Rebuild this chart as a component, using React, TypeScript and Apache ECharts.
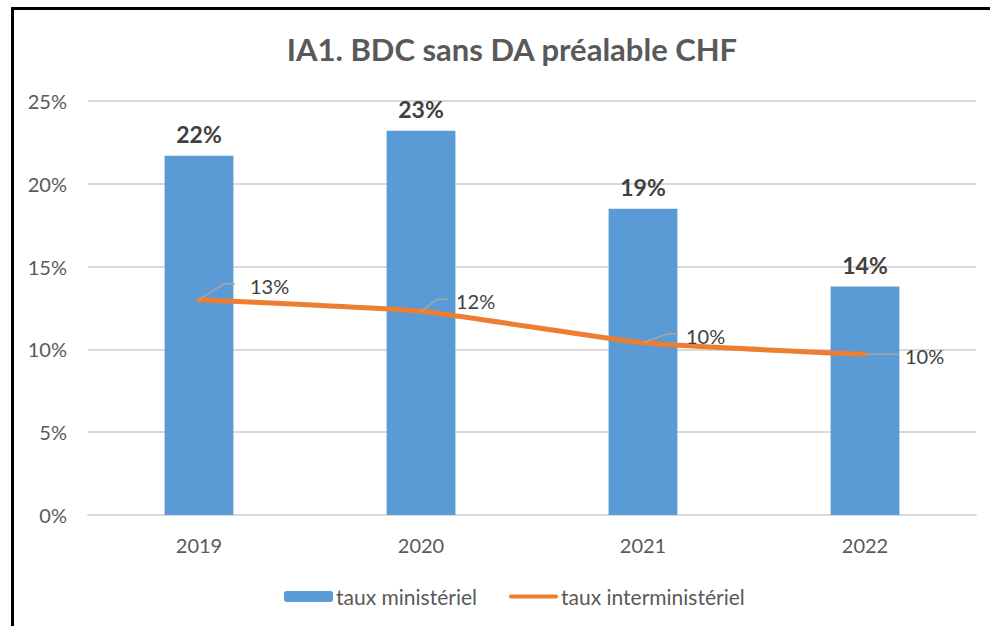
import React, { useEffect, useRef } from "react";
import * as echarts from "echarts";

const categories = ["2019", "2020", "2021", "2022"];
const ministerialValues = [21.7, 23.2, 18.5, 13.8];
const interministerialValues = [13.0, 12.3, 10.4, 9.7];
const yTicks = [0, 5, 10, 15, 20, 25];
const seriesNames = ["taux ministériel", "taux interministériel"];

// label leader-line offsets (style only): [diagX, diagY, horizLen, textDX, textDY]
const leaderOffsets = [
  [25, -16, 11, 51, -14],
  [16, -12, 11, 35, -10],
  [25, -9, 10, 43, -7],
  [0, 0, 33, 40, 2],
];

const FONT = "Lato, 'Open Sans', sans-serif";
const LINE_ICON = "path://M0,0M2,3.5L50,3.5A2,2 0 0 1 50,7.5L2,7.5A2,2 0 0 1 2,3.5ZM52,11";

export default function App() {
  const ref = useRef<HTMLDivElement>(null);
  useEffect(() => {
    if (!ref.current) return;
    const chart = echarts.init(ref.current, null, { renderer: "svg" });
    chart.setOption({
      animation: false,
      backgroundColor: "#ffffff",
      textStyle: { fontFamily: FONT },
      title: {
        text: "IA1. BDC sans DA préalable CHF",
        left: 507,
        textAlign: "center",
        top: 28,
        textStyle: { fontFamily: FONT, fontWeight: "bold", fontSize: 31, color: "#595959" },
      },
      graphic: [
        { type: "rect", shape: { x: 11, y: 7, width: 3, height: 626 }, style: { fill: "#000" }, z: 100 },
        { type: "rect", shape: { x: 11, y: 7, width: 990, height: 3 }, style: { fill: "#000" }, z: 100 },
      ],
      legend: {
        data: [
          { name: seriesNames[0] },
          { name: seriesNames[1], icon: LINE_ICON, itemStyle: { color: "#ED7D31", borderWidth: 0 } },
        ],
        left: 279,
        top: 581,
        itemGap: 32,
        itemWidth: 49,
        itemHeight: 11,
        textStyle: { fontFamily: FONT, fontSize: 21, color: "#595959", padding: [0, 0, 0, -2] },
      },
      grid: { left: 88, right: 14, top: 101, bottom: 111, containLabel: false },
      xAxis: {
        type: "category",
        data: categories,
        axisLine: { lineStyle: { color: "#D9D9D9", width: 2 } },
        axisTick: { show: false },
        axisLabel: { fontFamily: FONT, fontSize: 20, color: "#595959", margin: 20 },
      },
      yAxis: {
        type: "value",
        min: yTicks[0],
        max: yTicks[yTicks.length - 1],
        interval: 5,
        axisLine: { show: false },
        axisTick: { show: false },
        splitLine: { lineStyle: { color: "#D9D9D9", width: 2 } },
        axisLabel: { formatter: "{value}%", fontFamily: FONT, fontSize: 20, color: "#595959", margin: 21 },
      },
      series: [
        {
          name: seriesNames[0],
          type: "bar",
          data: ministerialValues,
          barWidth: "31%",
          itemStyle: { color: "#5B9BD5" },
          label: {
            show: true,
            position: "top",
            distance: 10,
            formatter: (p: any) => Math.round(p.value) + "%",
            fontFamily: FONT,
            fontWeight: "bold",
            fontSize: 23,
            color: "#404040",
          },
        },
        {
          name: seriesNames[1],
          type: "line",
          data: interministerialValues,
          smooth: 0.15,
          showSymbol: false,
          symbol: "none",
          lineStyle: { color: "#ED7D31", width: 5, cap: "round" },
          itemStyle: { color: "#ED7D31" },
          z: 3,
        },
        {
          type: "custom",
          data: interministerialValues.map((v, i) => [i, v]),
          z: 4,
          silent: true,
          renderItem: (params: any, api: any) => {
            const i = params.dataIndex;
            const pt = api.coord([api.value(0), api.value(1)]);
            const o = leaderOffsets[i];
            const p1 = [pt[0] + o[0], pt[1] + o[1]];
            const p2 = [p1[0] + o[2], p1[1]];
            return {
              type: "group",
              children: [
                {
                  type: "polyline",
                  shape: { points: [pt, p1, p2] },
                  style: { stroke: "#A6A6A6", lineWidth: 1.5, fill: "none" },
                },
                {
                  type: "text",
                  x: pt[0] + o[3],
                  y: pt[1] + o[4],
                  style: {
                    text: Math.round(api.value(1)) + "%",
                    fontFamily: FONT,
                    fontSize: 20,
                    fill: "#404040",
                    align: "left",
                    verticalAlign: "middle",
                  },
                },
              ],
            };
          },
        },
      ],
    });
    return () => chart.dispose();
  }, []);
  return (
    <div
      ref={ref}
      style={{ position: "fixed", left: 0, top: 0, width: 990, height: 626, background: "#fff" }}
    />
  );
}
